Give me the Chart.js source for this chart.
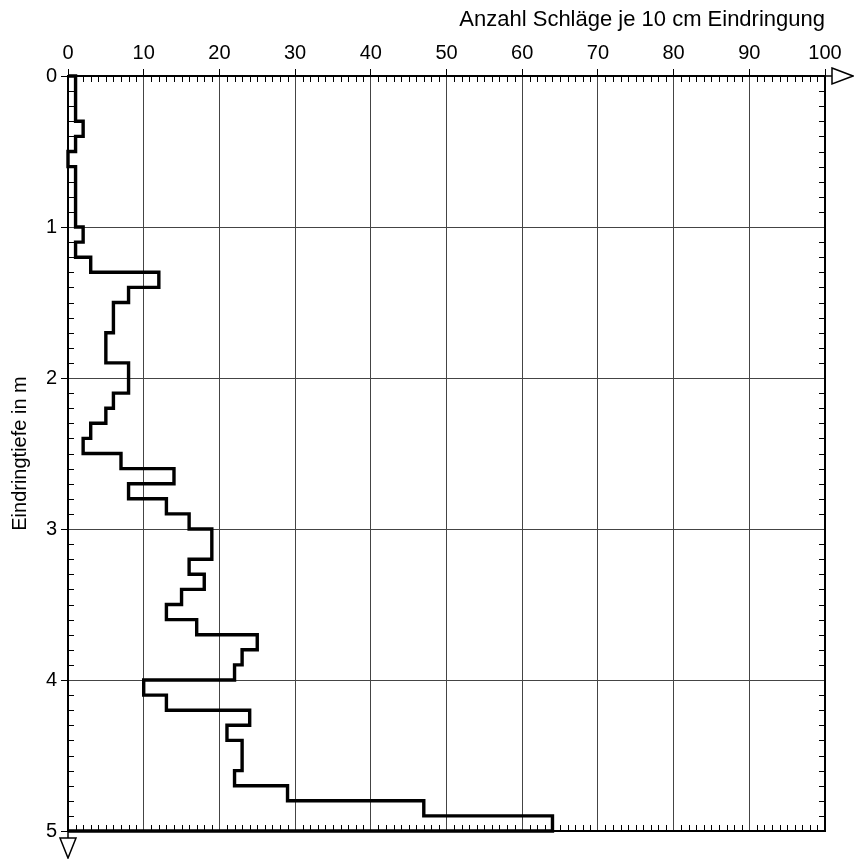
<!DOCTYPE html>
<html>
<head>
<meta charset="utf-8">
<script src="https://cdn.jsdelivr.net/npm/chart.js@4.4.1/dist/chart.umd.min.js"></script>
<style>
  html, body { margin: 0; padding: 0; background: #fff; }
  #wrap { width: 854px; height: 859px; }
</style>
</head>
<body>
<div id="wrap"><canvas id="chart" width="854" height="859"></canvas></div>
<script>
// depth at top of each 10 cm layer (m)
const depthStart = [
    0.0, 0.1, 0.2, 0.3, 0.4, 0.5, 0.6, 0.7, 0.8, 0.9,
    1.0, 1.1, 1.2, 1.3, 1.4, 1.5, 1.6, 1.7, 1.8, 1.9,
    2.0, 2.1, 2.2, 2.3, 2.4, 2.5, 2.6, 2.7, 2.8, 2.9,
    3.0, 3.1, 3.2, 3.3, 3.4, 3.5, 3.6, 3.7, 3.8, 3.9,
    4.0, 4.1, 4.2, 4.3, 4.4, 4.5, 4.6, 4.7, 4.8, 4.9
];
// blows per 10 cm penetration
const blowCounts = [
    1, 1, 1, 2, 1, 0, 1, 1, 1, 1,
    2, 1, 3, 12, 8, 6, 6, 5, 5, 8,
    8, 6, 5, 3, 2, 7, 14, 8, 13, 16,
    19, 19, 16, 18, 15, 13, 17, 25, 23, 22,
    10, 13, 24, 21, 23, 23, 22, 29, 47, 64
];
const layerThickness = 0.1;
const xTickValues = [0, 10, 20, 30, 40, 50, 60, 70, 80, 90, 100];
const yTickValues = [0, 1, 2, 3, 4, 5];

Chart.defaults.font.family = "'Liberation Sans', Arial, sans-serif";
Chart.defaults.color = '#000';

// build the step profile from the layer data
const profile = [{ x: 0, y: depthStart[0] }];
depthStart.forEach((d, i) => {
    profile.push({ x: blowCounts[i], y: d });
    profile.push({ x: blowCounts[i], y: d + layerThickness });
});
profile.push({ x: 0, y: depthStart[depthStart.length - 1] + layerThickness });

// minor ticks inside the frame, frame border and axis arrows
const frameDecor = {
    id: 'frameDecor',
    beforeDatasetsDraw(chart) {
        const { ctx, chartArea: a, scales: { x, y } } = chart;
        ctx.save();
        ctx.strokeStyle = '#000';
        ctx.lineWidth = 1;
        ctx.beginPath();
        for (let v = x.min + 1; v < x.max; v++) {
            if (v % 10 === 0) continue;
            const px = Math.round(x.getPixelForValue(v)) + 0.5;
            ctx.moveTo(px, a.top); ctx.lineTo(px, a.top + 6);
            ctx.moveTo(px, a.bottom); ctx.lineTo(px, a.bottom - 6);
        }
        for (let i = 1; i < 50; i++) {
            if (i % 10 === 0) continue;
            const py = Math.round(y.getPixelForValue(i / 10)) + 0.5;
            ctx.moveTo(a.left, py); ctx.lineTo(a.left + 6, py);
            ctx.moveTo(a.right, py); ctx.lineTo(a.right - 6, py);
        }
        ctx.stroke();
        ctx.lineWidth = 2;
        ctx.strokeRect(a.left, a.top, a.right - a.left, a.bottom - a.top);
        ctx.restore();
    },
    afterDraw(chart) {
        const { ctx, chartArea: a } = chart;
        ctx.save();
        ctx.strokeStyle = '#000';
        ctx.fillStyle = '#fff';
        ctx.lineWidth = 1.5;
        // x axis arrow (top right)
        ctx.beginPath();
        ctx.moveTo(a.right, a.top); ctx.lineTo(a.right + 7, a.top);
        ctx.stroke();
        ctx.beginPath();
        ctx.moveTo(a.right + 7, a.top - 8);
        ctx.lineTo(a.right + 28, a.top);
        ctx.lineTo(a.right + 7, a.top + 8);
        ctx.closePath();
        ctx.fill(); ctx.stroke();
        // y axis arrow (bottom left)
        ctx.beginPath();
        ctx.moveTo(a.left, a.bottom); ctx.lineTo(a.left, a.bottom + 7);
        ctx.stroke();
        ctx.beginPath();
        ctx.moveTo(a.left - 8, a.bottom + 7);
        ctx.lineTo(a.left + 8, a.bottom + 7);
        ctx.lineTo(a.left, a.bottom + 27);
        ctx.closePath();
        ctx.fill(); ctx.stroke();
        ctx.restore();
    }
};

const ctx = document.getElementById('chart');
new Chart(ctx, {
    type: 'scatter',
    data: {
        datasets: [{
            data: profile,
            showLine: true,
            borderColor: '#000',
            borderWidth: 3.4,
            pointRadius: 0,
            fill: false,
            tension: 0,
            clip: false
        }]
    },
    options: {
        responsive: false,
        animation: false,
        layout: { padding: { left: 0, top: 0, right: 29, bottom: 28 } },
        plugins: {
            legend: { display: false },
            tooltip: { enabled: false }
        },
        scales: {
            x: {
                type: 'linear',
                position: 'top',
                min: 0,
                max: 100,
                afterBuildTicks: s => { s.ticks = xTickValues.map(v => ({ value: v })); },
                afterFit: s => { s.height = 76; },
                grid: { color: '#444', lineWidth: 1, tickLength: 7, tickColor: '#000' },
                border: { display: true, color: '#000', width: 2 },
                ticks: { font: { size: 20 }, color: '#000', padding: 4, maxRotation: 0 },
                title: {
                    display: true,
                    text: 'Anzahl Schläge je 10 cm Eindringung',
                    align: 'end',
                    font: { size: 22 },
                    color: '#000',
                    padding: { top: 7, bottom: 0 }
                }
            },
            y: {
                type: 'linear',
                position: 'left',
                reverse: true,
                min: 0,
                max: 5,
                afterBuildTicks: s => { s.ticks = yTickValues.map(v => ({ value: v })); },
                afterFit: s => { s.width = 68; },
                grid: { color: '#444', lineWidth: 1, tickLength: 7, tickColor: '#000' },
                border: { display: true, color: '#000', width: 2 },
                ticks: { font: { size: 20 }, color: '#000', padding: 4 },
                title: {
                    display: true,
                    text: 'Eindringtiefe in m',
                    font: { size: 20 },
                    color: '#000',
                    padding: { top: 8, bottom: 0 }
                }
            }
        }
    },
    plugins: [frameDecor]
});
</script>
</body>
</html>
